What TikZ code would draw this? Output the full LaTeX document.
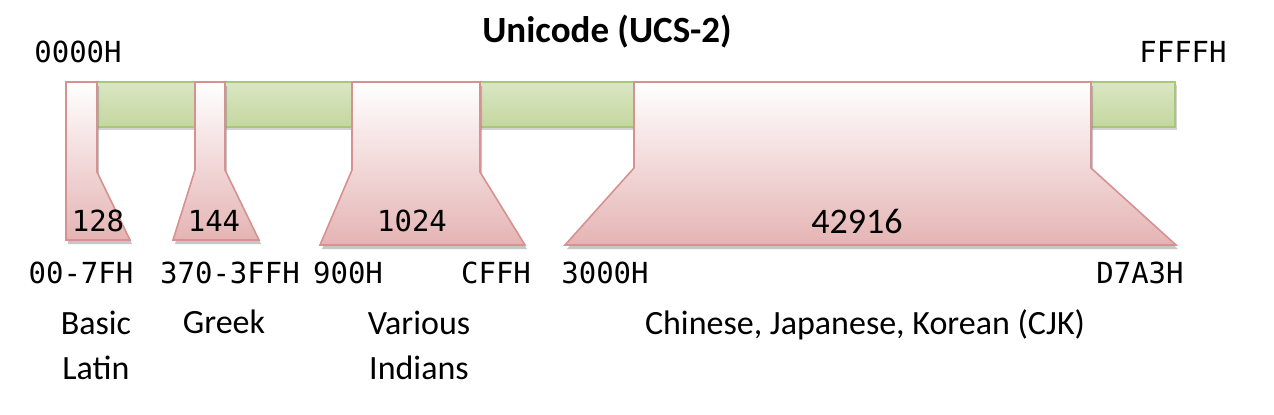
\documentclass[tikz,border=0pt]{standalone}
\usepackage{fontspec}
\setmainfont{Carlito}
\newfontfamily\hexfont{DejaVu Sans Mono}
\usetikzlibrary{shadows}
\definecolor{barline}{RGB}{170,198,120}
\definecolor{bartop}{RGB}{218,230,196}
\definecolor{barbot}{RGB}{196,215,158}
\definecolor{bandline}{RGB}{214,145,145}
\definecolor{bandbot}{RGB}{229,180,180}
\tikzset{bar/.style={draw=barline, thick, top color=bartop, middle color=white!85!bartop, bottom color=barbot,
  drop shadow={shadow xshift=1pt, shadow yshift=-1.5pt, fill=gray, opacity=.35}},
band/.style={draw=bandline, thick, top color=white, bottom color=bandbot,
  drop shadow={shadow xshift=1pt, shadow yshift=-2pt, fill=gray, opacity=.45}},
hex/.style={font=\hexfont\fontsize{14.5}{18}\selectfont, inner sep=0pt},
desc/.style={font=\fontsize{17}{22.5}\selectfont, align=center, inner sep=0pt}
}

\begin{document}
\begin{tikzpicture}[x=0.5pt,y=-0.5pt]
\useasboundingbox (0,0) rectangle (1274,414);
\node[font=\bfseries\fontsize{18.5}{20}\selectfont] (title) at (607,32) {Unicode (UCS-2)};
\node[hex] (lo) at (78,52) {0000H};
\node[hex] (hi) at (1183,52) {FFFFH};
% code space
\draw[bar] (66,82) rectangle (1175,127);
% blocks
\draw[band] (66,82) -- (97,82) -- (97,172) -- (130,240) -- (66,240) -- cycle;
\draw[band] (195,82) -- (225,82) -- (225,170) -- (259,240) -- (173,240) -- (195,170) -- cycle;
\draw[band] (352,82) -- (480,82) -- (480,172) -- (525,245) -- (320,245) -- (352,170) -- cycle;
\draw[band] (634,82) -- (1091,82) -- (1091,168) -- (1176,245) -- (565,245) -- (634,168) -- cycle;
\node[hex] (n1) at (98,221) {128};
\node[hex] (n2) at (214,221) {144};
\node[hex] (n3) at (412,221) {1024};
\node[desc,font=\fontsize{18}{20}\selectfont] (n4) at (857,221) {42916};
% ranges
\node[hex] (r1) at (81,273) {00-7FH};
\node[hex] (r2) at (230,273) {370-3FFH};
\node[hex] (r3) at (348,273) {900H};
\node[hex] (r4) at (496,273) {CFFH};
\node[hex] (r5) at (605,273) {3000H};
\node[hex] (r6) at (1140,273) {D7A3H};
% names
\node[desc,anchor=north] (s1) at (96,311) {Basic\\Latin};
\node[desc,anchor=north] (s2) at (224,309) {Greek};
\node[desc,anchor=north] (s3) at (419,311) {Various\\Indians};
\node[desc,anchor=north] (s4) at (865,309) {Chinese, Japanese, Korean (CJK)};
\end{tikzpicture}
\end{document}
